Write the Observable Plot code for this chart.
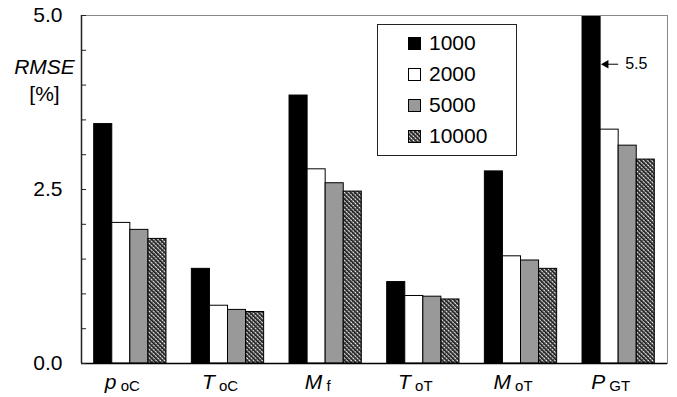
<!DOCTYPE html>
<html><head><meta charset="utf-8">
<script src="https://cdn.jsdelivr.net/npm/d3@7"></script>
<script src="https://cdn.jsdelivr.net/npm/@observablehq/plot@0.6"></script>
<style>
body{margin:0;background:#fff;font-family:"Liberation Sans",Arial,sans-serif;}
#wrap{position:relative;width:677px;height:397px;}
#legend{position:absolute;left:377px;top:24px;width:140px;height:132px;border:1px solid #222;box-sizing:border-box;background:#fff;}
.row{position:absolute;left:0;height:20px;display:flex;align-items:center;font-size:21px;color:#000;}
.row svg{margin-left:30px;margin-right:8px;display:block;}
</style>
</head><body>
<svg width="0" height="0" style="position:absolute">
  <defs>
    <pattern id="hatch" patternUnits="userSpaceOnUse" width="3" height="3" patternTransform="rotate(-45)">
      <rect width="3" height="3" fill="#fff"/>
      <rect x="0" y="0" width="1.8" height="3" fill="#1a1a1a"/>
      <rect x="1.8" y="0" width="1.2" height="1.2" fill="#555"/>
    </pattern>
  </defs>
</svg>
<div id="wrap"></div>
<script>
// ---- data ----
const catMain = ["p", "T", "M", "T", "M", "P"];
const catSub = ["oC", "oC", "f", "oT", "oT", "GT"];
const series = ["1000", "2000", "5000", "10000"];
const s1000 = [3.44, 1.36, 3.85, 1.17, 2.76, 5.5];
const s2000 = [2.02, 0.83, 2.79, 0.97, 1.54, 3.36];
const s5000 = [1.92, 0.77, 2.59, 0.96, 1.48, 3.13];
const s10000 = [1.79, 0.74, 2.47, 0.92, 1.36, 2.93];
const yTicks = [0, 0.5, 1, 1.5, 2, 2.5, 3, 3.5, 4, 4.5, 5];
const yLabels = [0, 2.5, 5];
const yMax = 5;
const annotY = 4.3;

const values = [s1000, s2000, s5000, s10000];
const fills = ["#000", "#fff", "#999", "url(#hatch)"];
const bars = [];
series.forEach((s, j) => values[j].forEach((v, i) => bars.push({i, j, series: s, v})));
const w = 0.185;
const x1 = d => d.i - 2 * w + d.j * w;
const x2 = d => d.i - w + d.j * w;
const clipped = bars.filter(d => d.v > yMax);

const font = '"Liberation Sans", Arial, sans-serif';
const plot = Plot.plot({
  width: 677, height: 397,
  marginLeft: 81, marginRight: 10, marginTop: 15, marginBottom: 34,
  style: {fontFamily: font, fontSize: "21px", color: "#000", background: "#fff", overflow: "visible"},
  x: {type: "linear", domain: [-0.5, 5.5], axis: null},
  y: {domain: [0, yMax], axis: null},
  color: {type: "ordinal", domain: series, range: fills},
  marks: [
    Plot.rectY(bars, {x1, x2, y1: 0, y2: "v", fill: "series", stroke: "#000", strokeWidth: 1, clip: true}),
    Plot.frame({stroke: "#888", strokeWidth: 1}),
    Plot.ruleX([-0.5], {stroke: "#222", strokeWidth: 1.5}),
    Plot.ruleY([0], {stroke: "#000", strokeWidth: 1.5}),
    Plot.axisY({ticks: yTicks, tickSize: -5, tickFormat: () => "", stroke: "#222", label: null}),
    Plot.axisY({ticks: yLabels, tickSize: 0, tickPadding: 19, tickFormat: d3.format(".1f"), fontSize: 21, label: null}),
    Plot.axisX({ticks: d3.range(catMain.length), tickSize: 0, tickPadding: 11, dx: -8, tickFormat: i => catMain[i] + catSub[i], fontSize: 21, label: null}),
    Plot.text(["RMSE"], {text: d => d, frameAnchor: "top-left", dx: -37, dy: 44, fontStyle: "italic", fontSize: 21, textAnchor: "middle"}),
    Plot.text(["[%]"], {text: d => d, frameAnchor: "top-left", dx: -37, dy: 71, fontSize: 21, textAnchor: "middle"}),
    Plot.link(clipped, {x1: d => x2(d) + 0.04, x2: d => x2(d) + 0.18, y1: annotY, y2: annotY, stroke: "#000", strokeWidth: 1}),
    Plot.dot(clipped, {x: d => x2(d) + 0.055, y: annotY, symbol: "triangle", r: 3.2, fill: "#000", stroke: "none", rotate: -90}),
    Plot.text(clipped, {x: d => x2(d) + 0.18, y: annotY, dx: 7, text: d => d3.format(".1f")(d.v), textAnchor: "start", fontSize: 16})
  ]
});

// subscripts on x tick labels
d3.select(plot).selectAll('g[aria-label="x-axis tick label"] text').each(function(_, k) {
  const t = d3.select(this);
  t.text(null);
  t.append("tspan").attr("font-style", "italic").text(catMain[k]);
  t.append("tspan").attr("font-size", 15).attr("dy", 2).text(" " + catSub[k]);
});

const wrap = document.getElementById("wrap");
wrap.appendChild(plot);

// legend
const legend = document.createElement("div");
legend.id = "legend";
series.forEach((s, j) => {
  const row = document.createElement("div");
  row.className = "row";
  row.style.top = (8 + j * 31) + "px";
  row.innerHTML = `<svg width="13" height="13"><rect x="0.5" y="0.5" width="12" height="12" fill="${fills[j]}" stroke="#000" stroke-width="1"/></svg><span>${s}</span>`;
  legend.appendChild(row);
});
wrap.appendChild(legend);
</script>
</body></html>
